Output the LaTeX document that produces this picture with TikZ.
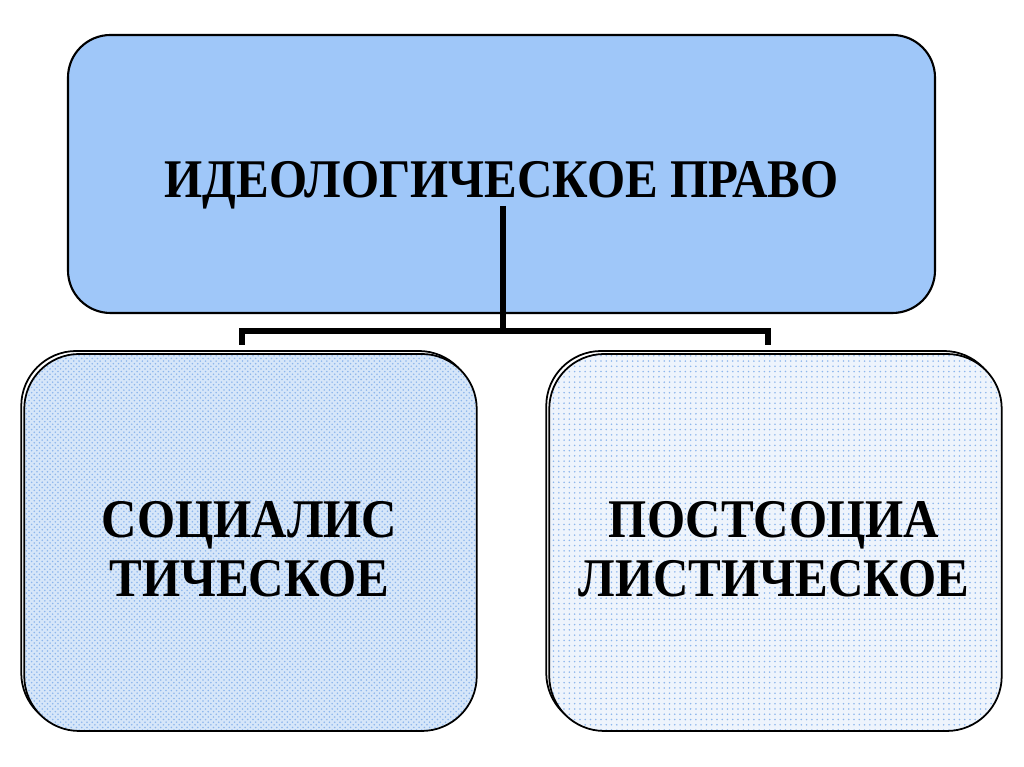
\documentclass[tikz,border=0pt]{standalone}
\usepackage{fontspec}
\setmainfont{Liberation Serif}[FakeStretch=0.9]
\usetikzlibrary{patterns, positioning, calc}
\definecolor{SkyTop}{HTML}{9FC7F9}
\definecolor{PaleBlue}{HTML}{D6E6F9}
\definecolor{PaleDots}{HTML}{EEF4FC}
\definecolor{DotBlue}{HTML}{8DB6EC}

\begin{document}
\begin{tikzpicture}[
    topbox/.style={rectangle, rounded corners=0.85cm, draw=black, fill=SkyTop, minimum width=17.34cm, minimum height=5.56cm, line width=1.2pt},
    kindbox/.style={rectangle, rounded corners=1.1cm, draw=black, minimum width=9.05cm, minimum height=7.54cm, line width=1pt},
    kindtext/.style={align=center, font=\fontsize{31}{33.5}\selectfont\bfseries},
    ghost/.style={rectangle, rounded corners=1.1cm, draw=black, minimum width=9.05cm, minimum height=7.54cm, line width=1pt},
    link/.style={draw=black, line width=3.4pt}
]
\useasboundingbox (0,0) rectangle (20.48,15.34);

\node[topbox] (ideology) at (10.03,11.86) {};
\node[font=\fontsize{31}{33}\selectfont\bfseries] (ideotext) at (10.03,11.64) {ИДЕОЛОГИЧЕСКОЕ ПРАВО};

% lower boxes with an offset outline behind
\node[ghost] (socback) at (4.95,4.55) {};
\node[kindbox, preaction={fill=PaleBlue}, pattern=crosshatch dots, pattern color=DotBlue] (social) at (5.01,4.49) {};
\node[kindtext] (soctext) at (4.99,4.36) {СОЦИАЛИС\\ТИЧЕСКОЕ};
\node[ghost] (postback) at (15.45,4.55) {};
\node[kindbox, preaction={fill=PaleDots}, pattern=dots, pattern color=DotBlue] (postsoc) at (15.51,4.49) {};
\node[kindtext] (posttext) at (15.48,4.36) {ПОСТСОЦИА\\ЛИСТИЧЕСКОЕ};

\coordinate (stem) at (10.06,11.22);
\coordinate (bar) at (10.06,8.72);
\coordinate (lefttick) at (4.84,8.44);
\coordinate (righttick) at (15.36,8.44);

\draw[link] (stem) -- (bar);
\draw[link] (lefttick) |- (bar) -| (righttick);
\end{tikzpicture}
\end{document}
